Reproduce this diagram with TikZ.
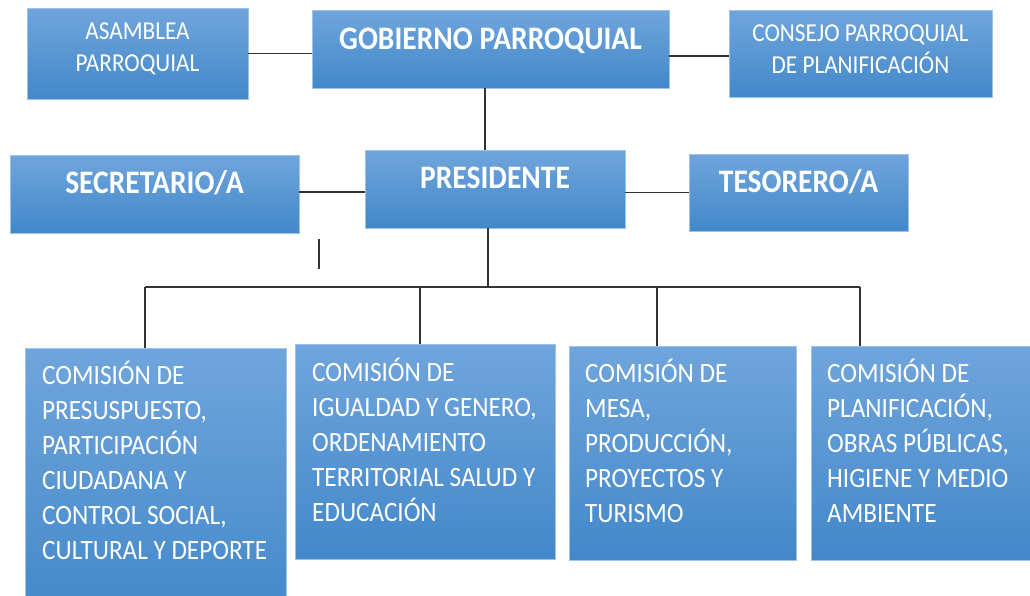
\documentclass[tikz,border=0pt]{standalone}
\usepackage{fontspec}
\setmainfont{Carlito}[FakeStretch=0.9]
\definecolor{boxtop}{RGB}{112,165,220}
\definecolor{boxmid}{RGB}{84,152,218}
\definecolor{boxbot}{RGB}{66,136,202}
\definecolor{boxline}{RGB}{157,195,230}
\tikzset{
  box/.style={rectangle, draw=boxline, line width=0.8pt, inner sep=0pt,
    top color=boxtop, middle color=boxmid, bottom color=boxbot},
  link/.style={draw=black!80, line width=1.4pt},
  smalltext/.style={text=white, inner sep=0pt, align=center, anchor=north,
    font=\fontsize{25.8}{32.5}\selectfont},
  bigtext/.style={text=white, inner sep=0pt, anchor=base,
    font=\fontsize{32.8}{40}\selectfont\bfseries},
  comtext/.style={text=white, inner sep=0pt, align=left, anchor=north west,
    font=\fontsize{28}{35}\selectfont}
}

\begin{document}
\begin{tikzpicture}[x=1pt, y=-1pt]
  \useasboundingbox (0,0) rectangle (1030,595);

  \node (asam) at (137.5, 53.5) [box, minimum width=221pt, minimum height=91pt] {};
  \node (gob)  at (490.5, 49.0) [box, minimum width=357pt, minimum height=78pt] {};
  \node (cons) at (860.5, 53.5) [box, minimum width=263pt, minimum height=87pt] {};

  \node (sec)  at (154.5, 194.0) [box, minimum width=289pt, minimum height=78pt] {};
  \node (pres) at (495.0, 189.0) [box, minimum width=260pt, minimum height=78pt] {};
  \node (tes)  at (798.5, 192.5) [box, minimum width=219pt, minimum height=77pt] {};

  \node (com1) at (155.5, 484.0) [box, minimum width=261pt, minimum height=272pt] {};
  \node (com2) at (425.0, 451.5) [box, minimum width=260pt, minimum height=215pt] {};
  \node (com3) at (682.5, 453.0) [box, minimum width=227pt, minimum height=214pt] {};
  \node (com4) at (930.5, 453.0) [box, minimum width=239pt, minimum height=214pt] {};

  \node (asamT) at (137.5, 16.2) [smalltext] {\strut ASAMBLEA\\PARROQUIAL};
  \node (gobT)  at (490.5, 49.0) [bigtext] {GOBIERNO PARROQUIAL};
  \node (consT) at (860.5, 18.2) [smalltext] {\strut CONSEJO PARROQUIAL\\DE PLANIFICACIÓN};
  \node (secT)  at (154.5, 193.0) [bigtext] {SECRETARIO/A};
  \node (presT) at (495.0, 188.0) [bigtext] {PRESIDENTE};
  \node (tesT)  at (798.5, 192.0) [bigtext] {TESORERO/A};

  \node (com1T) at (42, 359.5) [comtext] {\strut COMISIÓN DE\\PRESUSPUESTO,\\PARTICIPACIÓN\\CIUDADANA Y\\CONTROL SOCIAL,\\CULTURAL Y DEPORTE};
  \node (com2T) at (312, 356.5) [comtext] {\strut COMISIÓN DE\\IGUALDAD Y GENERO,\\ORDENAMIENTO\\TERRITORIAL SALUD Y\\EDUCACIÓN};
  \node (com3T) at (585, 357.5) [comtext] {\strut COMISIÓN DE\\MESA,\\PRODUCCIÓN,\\PROYECTOS Y\\TURISMO};
  \node (com4T) at (827, 357.5) [comtext] {\strut COMISIÓN DE\\PLANIFICACIÓN,\\OBRAS PÚBLICAS,\\HIGIENE Y MEDIO\\AMBIENTE};

  \coordinate (bus)  at (488, 287);
  \coordinate (bus1) at (145, 287);
  \coordinate (bus2) at (420, 287);
  \coordinate (bus3) at (657, 287);
  \coordinate (bus4) at (860, 287);

  \draw[link] (asam.east) -- (asam.east -| gob.west);
  \draw[link] ([yshift=-2.5pt]cons.west) -- ([yshift=-2.5pt]cons.west -| gob.east);
  \draw[link] ([xshift=-5.5pt]gob.south) -- ([xshift=-5.5pt]gob.south |- pres.north);
  \draw[link] ([yshift=-3pt]pres.west) -- ([yshift=-3pt]pres.west -| sec.east);
  \draw[link] (tes.west) -- (tes.west -| pres.east);
  \draw[link] ([xshift=-7pt]pres.south) -- (bus);
  \draw[link] (bus1) -- (bus4);
  \draw[link] (bus1) -- (bus1 |- com1.north);
  \draw[link] (bus2) -- (bus2 |- com2.north);
  \draw[link] (bus3) -- (bus3 |- com3.north);
  \draw[link] (bus4) -- (bus4 |- com4.north);

  \draw[link] (319, 239) -- (319, 269);
\end{tikzpicture}
\end{document}
